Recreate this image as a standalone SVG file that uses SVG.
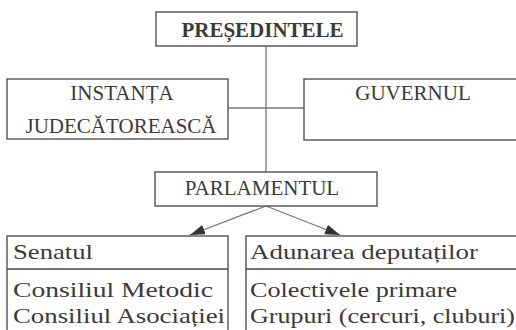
<svg xmlns="http://www.w3.org/2000/svg" width="516" height="330" viewBox="0 0 516 330">
<defs>
<style>
.box{fill:#fff;stroke:#444;stroke-width:1.3}
.ln{fill:none;stroke:#777;stroke-width:1.3}
.t{font-size:21px;fill:#3a3a3a;text-anchor:middle}
.b{font-weight:bold}
.l{font-size:22px;fill:#3a3a3a}
</style>
<marker id="ah" viewBox="0 0 15 10" refX="15" refY="5" markerWidth="15" markerHeight="10" markerUnits="userSpaceOnUse" orient="auto">
<path d="M0,0 L15,5 L0,10 Z" fill="#333"/>
</marker>
</defs>
<rect width="516" height="330" fill="#fff"/>
<g id="connectors">
<line class="ln" x1="266" y1="46" x2="266" y2="172"/>
<line class="ln" x1="228" y1="108" x2="304" y2="108"/>
<line class="ln" x1="266" y1="206" x2="190" y2="235" marker-end="url(#ah)"/>
<line class="ln" x1="266" y1="206" x2="340" y2="235" marker-end="url(#ah)"/>
</g>
<g font-family="Liberation Serif, serif">
<g id="presedintele">
<rect class="box" x="156" y="12" width="201" height="34"/>
<text class="t b" x="262.5" y="37">PREȘEDINTELE</text>
</g>
<g id="instanta">
<rect class="box" x="7" y="79" width="221" height="60"/>
<text class="t" x="122" y="100">INSTANȚA</text>
<text class="t" x="121" y="133">JUDECĂTOREASCĂ</text>
</g>
<g id="guvernul">
<rect class="box" x="304" y="79" width="220" height="61"/>
<text class="t" x="413" y="100">GUVERNUL</text>
</g>
<g id="parlamentul">
<rect class="box" x="155" y="172" width="222" height="34"/>
<text class="t" x="262" y="195">PARLAMENTUL</text>
</g>
<g id="senat">
<rect class="box" x="7" y="236" width="221" height="110"/>
<line class="box" x1="7" y1="269" x2="228" y2="269"/>
<text class="l" x="13" y="259" textLength="80" lengthAdjust="spacingAndGlyphs">Senatul</text>
<text class="l" x="13" y="297" textLength="200" lengthAdjust="spacingAndGlyphs">Consiliul Metodic</text>
<text class="l" x="13" y="323" textLength="212" lengthAdjust="spacingAndGlyphs">Consiliul Asociației</text>
</g>
<g id="adunarea">
<rect class="box" x="246" y="236" width="280" height="110"/>
<line class="box" x1="246" y1="269" x2="526" y2="269"/>
<text class="l" x="250" y="259" textLength="228" lengthAdjust="spacingAndGlyphs">Adunarea deputaților</text>
<text class="l" x="250" y="297" textLength="207" lengthAdjust="spacingAndGlyphs">Colectivele primare</text>
<text class="l" x="250" y="323" textLength="265" lengthAdjust="spacingAndGlyphs">Grupuri (cercuri, cluburi)</text>
</g>
</g>
</svg>
